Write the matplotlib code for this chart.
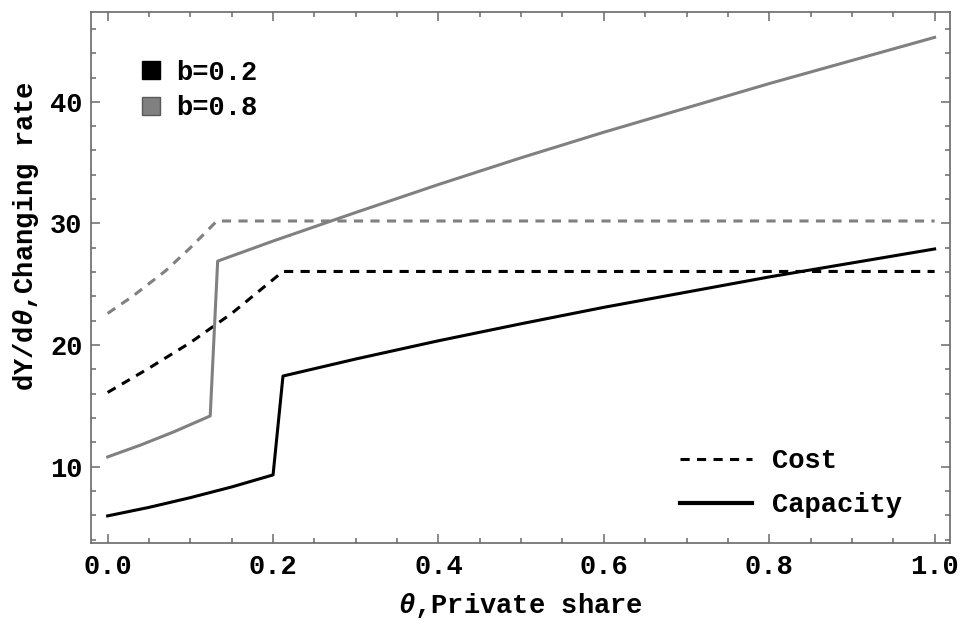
import numpy as np
import matplotlib
matplotlib.use("Agg")
import matplotlib.pyplot as plt
from matplotlib.lines import Line2D
from matplotlib.ticker import MultipleLocator, FormatStrFormatter

plt.rcParams['font.family'] = ['Liberation Mono', 'DejaVu Sans Mono']
plt.rcParams['font.weight'] = 'bold'
plt.rcParams['mathtext.fontset'] = 'custom'
plt.rcParams['mathtext.it'] = 'Liberation Mono:italic'
plt.rcParams['mathtext.rm'] = 'Liberation Mono:bold'

# b=0.2, capacity (solid black), jump near theta=0.2
cap02_x = [0.0, 0.05, 0.10, 0.15, 0.200, 0.212, 0.3, 0.4, 0.5, 0.6, 0.7, 0.8, 0.9, 1.0]
cap02_y = [5.95, 6.65, 7.45, 8.33, 9.32, 17.45, 18.85, 20.35, 21.75, 23.1, 24.35, 25.6, 26.75, 27.9]

# b=0.2, cost (dashed black)
cost02_x = [0.0, 0.05, 0.10, 0.15, 0.212, 1.0]
cost02_y = [16.1, 18.1, 20.2, 22.6, 26.05, 26.05]

# b=0.8, capacity (solid gray), jump near theta=0.13
cap08_x = [0.0, 0.04, 0.08, 0.124, 0.133, 0.2, 0.3, 0.4, 0.5, 0.6, 0.7, 0.8, 0.9, 1.0]
cap08_y = [10.8, 11.78, 12.86, 14.17, 26.9, 28.55, 30.9, 33.2, 35.4, 37.5, 39.5, 41.5, 43.4, 45.3]

# b=0.8, cost (dashed gray)
cost08_x = [0.0, 0.03, 0.07, 0.10, 0.132, 1.0]
cost08_y = [22.6, 24.0, 26.1, 28.0, 30.2, 30.2]

black = 'black'
gray = '#808080'
frame = '#6a6a6a'
fs = 19.5
dash = (0, (3.0, 2.4))

fig = plt.figure(figsize=(9.6, 6.23), dpi=100)
ax = fig.add_axes([0.0945, 0.129, 0.895, 0.852])

ax.plot(cost08_x, cost08_y, color=gray, lw=2.2, linestyle=dash)
ax.plot(cost02_x, cost02_y, color=black, lw=2.2, linestyle=dash)
ax.plot(cap08_x, cap08_y, color=gray, lw=2.2)
ax.plot(cap02_x, cap02_y, color=black, lw=2.2)

ax.set_xlim(-0.0205, 1.0185)
ax.set_ylim(3.75, 47.4)

ax.xaxis.set_major_locator(MultipleLocator(0.2))
ax.xaxis.set_minor_locator(MultipleLocator(0.05))
ax.yaxis.set_major_locator(MultipleLocator(10))
ax.yaxis.set_minor_locator(MultipleLocator(2))
ax.xaxis.set_major_formatter(FormatStrFormatter('%.1f'))

for s in ax.spines.values():
    s.set_color(frame)
    s.set_linewidth(1.2)
ax.tick_params(which='both', direction='in', top=True, right=True,
               color=frame, width=1.1, labelsize=fs, labelcolor='black')
ax.tick_params(which='major', length=6.5)
ax.tick_params(which='minor', length=3.5)
ax.tick_params(axis='x', pad=8)
ax.tick_params(axis='y', pad=6)

ax.set_xlabel(r'$\theta$,Private share', fontsize=fs, fontweight='bold', labelpad=8)
ax.set_ylabel(r'dY/d$\theta$,Changing rate', fontsize=fs, fontweight='bold')
ax.yaxis.set_label_coords(-0.058, 0.577)

# legend for b values
h1 = [Line2D([], [], marker='s', linestyle='none', markersize=12.5,
             markerfacecolor=black, markeredgecolor=black),
      Line2D([], [], marker='s', linestyle='none', markersize=12.5,
             markerfacecolor=gray, markeredgecolor='#5a5a5a')]
leg1 = ax.legend(h1, ['b=0.2', 'b=0.8'], loc='upper left',
                 bbox_to_anchor=(0.0545, 0.9096), frameon=False, fontsize=fs,
                 handlelength=1.0, handletextpad=0.42, labelspacing=0.35,
                 borderpad=0, borderaxespad=0)
ax.add_artist(leg1)

h2 = [Line2D([], [], color=black, lw=2.2, linestyle=dash),
      Line2D([], [], color=black, lw=3.0)]
ax.legend(h2, ['Cost', 'Capacity'], loc='upper left',
          bbox_to_anchor=(0.686, 0.178), frameon=False, fontsize=fs,
          handlelength=2.66, handletextpad=0.74, labelspacing=0.66,
          borderpad=0, borderaxespad=0)

fig.savefig('out.png', dpi=100)
